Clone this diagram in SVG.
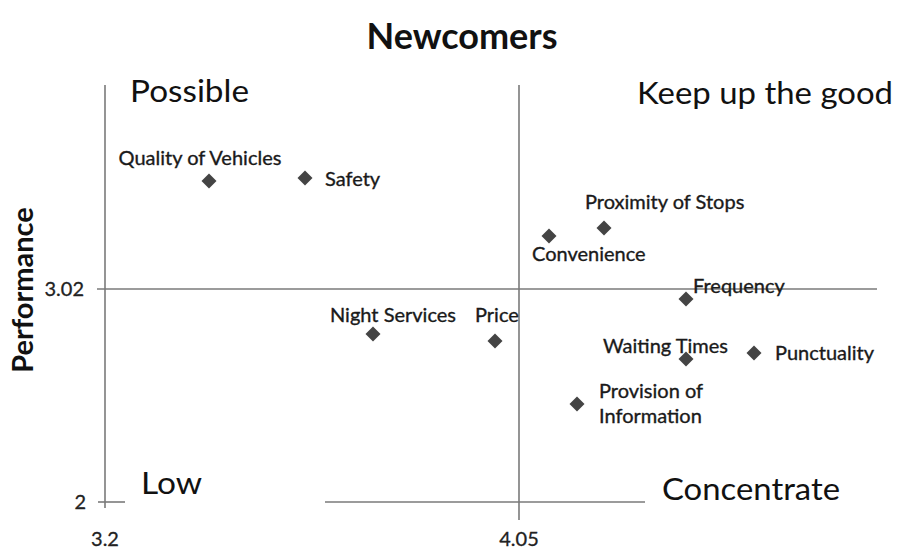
<svg xmlns="http://www.w3.org/2000/svg" width="907" height="554" viewBox="0 0 907 554">
  <style>
    .axis { stroke: #7a7a7a; stroke-width: 1.6; fill: none; }
    .title { font-family: Lato, "Open Sans", sans-serif; font-weight: bold; font-size: 36px; fill: #111; }
    .quad { font-family: Lato, "Open Sans", sans-serif; font-size: 30px; fill: #111; }
    .tick { font-family: Lato, "Open Sans", sans-serif; font-size: 20px; fill: #222; stroke: #222; stroke-width: 0.3; }
    .ylabel { font-family: Lato, "Open Sans", sans-serif; font-weight: bold; font-size: 29px; fill: #111; }
    .lbl { font-family: Lato, "Open Sans", sans-serif; font-size: 20px; fill: #1a1a1a; stroke: #1a1a1a; stroke-width: 0.35; }
    .pt { fill: #444; }
  </style>
  <defs>
    <path id="dm" d="M0,-7.5 L7.5,0 L0,7.5 L-7.5,0 Z"/>
  </defs>
  <rect width="907" height="554" fill="#ffffff"/>

  <text class="title" x="462" y="49" text-anchor="middle">Newcomers</text>

  <!-- axes and quadrant dividers -->
  <g id="axes">
    <line class="axis" x1="105" y1="85" x2="105" y2="508"/>
    <line class="axis" x1="519" y1="85" x2="519" y2="520"/>
    <line class="axis" x1="97" y1="289" x2="877" y2="289"/>
    <line class="axis" x1="98" y1="502" x2="125" y2="502"/>
    <line class="axis" x1="325" y1="502" x2="645" y2="502"/>
  </g>

  <text class="tick" x="84" y="296" text-anchor="end">3.02</text>
  <text class="tick" x="86" y="509" text-anchor="end">2</text>
  <text class="tick" x="105" y="546" text-anchor="middle">3.2</text>
  <text class="tick" x="519" y="546" text-anchor="middle">4.05</text>
  <text class="ylabel" transform="translate(33,290) rotate(-90)" text-anchor="middle">Performance</text>

  <text class="quad" x="130" y="102" textLength="119" lengthAdjust="spacingAndGlyphs">Possible</text>
  <text class="quad" x="637" y="104" textLength="256" lengthAdjust="spacingAndGlyphs">Keep up the good</text>
  <text class="quad" x="141" y="494" textLength="61" lengthAdjust="spacingAndGlyphs">Low</text>
  <text class="quad" x="662" y="500" textLength="178" lengthAdjust="spacingAndGlyphs">Concentrate</text>

  <g id="quality-of-vehicles">
    <use href="#dm" class="pt" x="209" y="181"/>
    <text class="lbl" x="200" y="165" text-anchor="middle">Quality of Vehicles</text>
  </g>
  <g id="safety">
    <use href="#dm" class="pt" x="305" y="178"/>
    <text class="lbl" x="325" y="186">Safety</text>
  </g>
  <g id="proximity-of-stops">
    <use href="#dm" class="pt" x="604" y="228"/>
    <text class="lbl" x="585" y="209">Proximity of Stops</text>
  </g>
  <g id="convenience">
    <use href="#dm" class="pt" x="549" y="236"/>
    <text class="lbl" x="532" y="261">Convenience</text>
  </g>
  <g id="frequency">
    <use href="#dm" class="pt" x="686" y="299"/>
    <text class="lbl" x="693" y="293">Frequency</text>
  </g>
  <g id="night-services">
    <use href="#dm" class="pt" x="373" y="334"/>
    <text class="lbl" x="330" y="322">Night Services</text>
  </g>
  <g id="price">
    <use href="#dm" class="pt" x="495" y="341"/>
    <text class="lbl" x="475" y="322">Price</text>
  </g>
  <g id="waiting-times">
    <use href="#dm" class="pt" x="686" y="359"/>
    <text class="lbl" x="603" y="353">Waiting Times</text>
  </g>
  <g id="punctuality">
    <use href="#dm" class="pt" x="754" y="353"/>
    <text class="lbl" x="775" y="360">Punctuality</text>
  </g>
  <g id="provision-of-information">
    <use href="#dm" class="pt" x="577" y="404"/>
    <text class="lbl" x="599" y="398">Provision of</text>
    <text class="lbl" x="599" y="423">Information</text>
  </g>
</svg>
